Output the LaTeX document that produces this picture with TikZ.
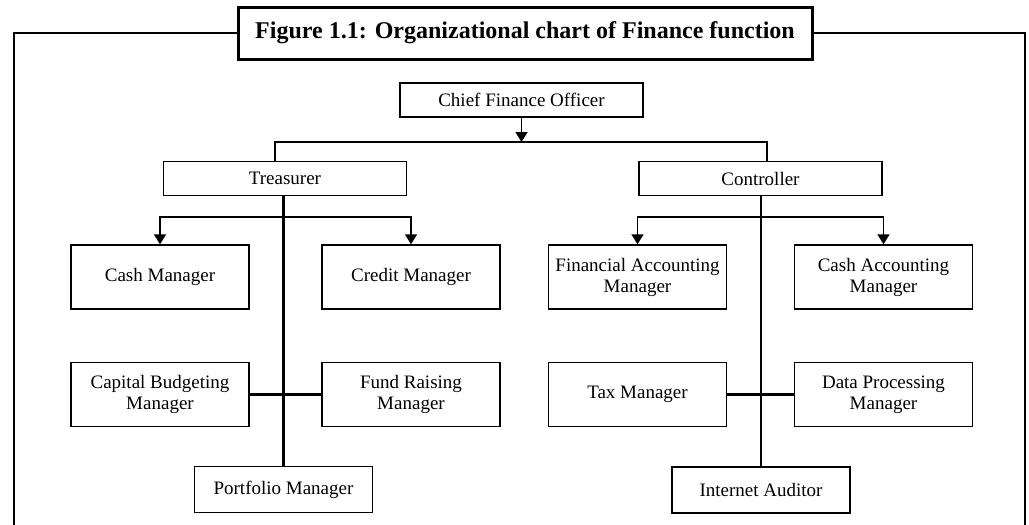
\documentclass[tikz,border=0pt]{standalone}
\usepackage{fontspec}
\setmainfont{Liberation Serif}
\usetikzlibrary{arrows.meta}

\begin{document}
\begin{tikzpicture}[x=1pt,y=-1pt,
    box/.style={draw, line width=1.4pt, align=center, inner sep=0pt,
      minimum width=178pt, minimum height=64pt, font=\fontsize{19}{21}\selectfont},
    headbox/.style={box, minimum width=243pt, minimum height=34pt},
    lowbox/.style={box, minimum height=46pt},
    arr/.style={line width=1.6pt, -{Triangle[width=12pt,length=10pt]}},
    trunk/.style={line width=2.6pt},
    link/.style={line width=1.3pt},
    frame/.style={line width=2.4pt}]
    \useasboundingbox (0,0) rectangle (1029,525);

    % Title and frame
    \node[draw, line width=3pt, minimum width=574pt, minimum height=52pt,
      font=\fontsize{24}{28}\selectfont\bfseries] (title) at (525,33)
      {Figure 1.1: Organizational chart of Finance function};
    \coordinate (fbl) at (14,525);
    \coordinate (fbr) at (1025,525);
    \draw[frame] (title.west) -| (fbl);
    \draw[frame] (title.east) -| (fbr);

    % Top level
    \node[headbox] (cfo) at (521.5,100) {Chief Finance Officer};
    \node[headbox] (treas) at (285,178.5) {Treasurer};
    \node[headbox] (ctrl) at (760.5,178.5) {Controller};
    \coordinate (lbar) at (275,142);
    \coordinate (rbar) at (767,142);
    \draw[arr] (cfo.south) -- (cfo.south |- lbar);
    \draw[link] (treas.north -| lbar) -- (lbar) -- (rbar) -- (ctrl.north -| rbar);

    % Treasurer side
    \node[box] (cash) at (160,277) {Cash Manager};
    \node[box] (credit) at (411,277) {Credit Manager};
    \node[box] (capbud) at (160,394.5) {Capital Budgeting\\Manager};
    \node[box] (fund) at (411,394.5) {Fund Raising\\Manager};
    \node[lowbox] (port) at (283.5,489.5) {Portfolio Manager};
    \coordinate (tsplit) at (283.5,217);
    \draw[trunk] (treas.south -| port.north) -- (port.north);
    \draw[arr] (tsplit) -| (cash.north);
    \draw[arr] (tsplit) -| (credit.north);
    \draw[trunk] (capbud.east) -- (fund.west);

    % Controller side
    \node[box] (finacc) at (637.5,277) {Financial Accounting\\Manager};
    \node[box] (cashacc) at (883.5,277) {Cash Accounting\\Manager};
    \node[box] (tax) at (637.5,394.5) {Tax Manager};
    \node[box] (data) at (883.5,394.5) {Data Processing\\Manager};
    \node[lowbox] (audit) at (761,490) {Internet Auditor};
    \coordinate (csplit) at (761,217);
    \draw[trunk] (ctrl.south -| audit.north) -- (audit.north);
    \draw[arr] (csplit) -| (finacc.north);
    \draw[arr] (csplit) -| (cashacc.north);
    \draw[trunk] (tax.east) -- (data.west);
\end{tikzpicture}
\end{document}
